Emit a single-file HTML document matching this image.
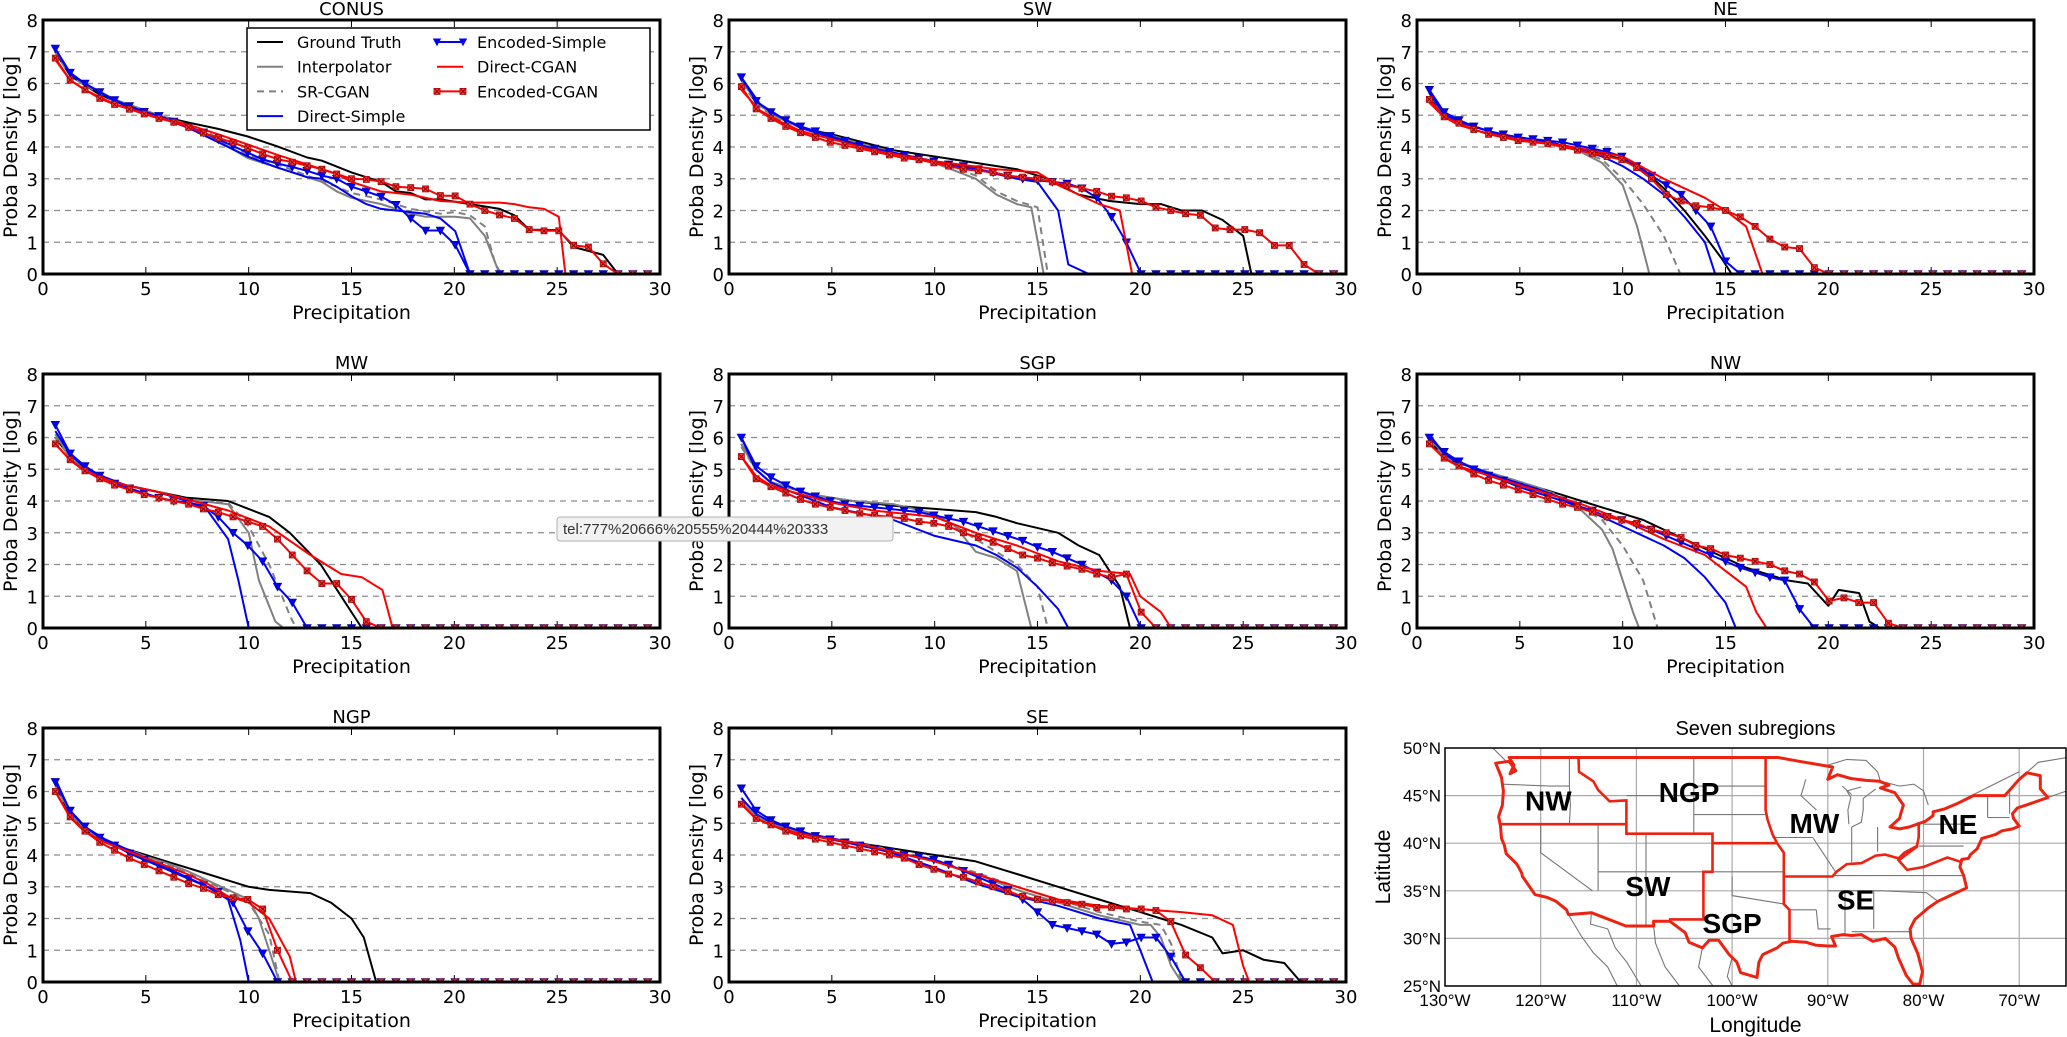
<!DOCTYPE html>
<html><head><meta charset="utf-8"><style>
html,body{margin:0;padding:0;background:#fff}
svg{display:block}
text{font-family:"DejaVu Sans","Liberation Sans",sans-serif}
.mt{font-family:"Liberation Sans",sans-serif}
</style></head><body>
<svg id="fig" xmlns="http://www.w3.org/2000/svg" width="2067" height="1037" viewBox="0 0 2067 1037">
<g id="charts"></g>
<g id="map"></g>
<g>
<rect x="557" y="517" width="336" height="24" rx="3" fill="#f2f2f2" stroke="#b0b0b0"/>
<text x="563" y="534" font-size="15" fill="#333" class="mt">tel:777%20666%20555%20444%20333</text>
</g>
</svg>
<script>
const bins=[0.6,1.32,2.04,2.76,3.48,4.2,4.92,5.64,6.36,7.08,7.8,8.52,9.24,9.96,10.68,11.4,12.12,12.84,13.56,14.28,15,15.72,16.44,17.16,17.88,18.6,19.32,20.04,20.76,21.48,22.2,22.92,23.64,24.36,25.08,25.8,26.52,27.24,27.96,28.68,29.4];
const xTicks=[0,5,10,15,20,25,30];
const yTicks=[0,1,2,3,4,5,6,7,8];

const conusGT=[[.6,7.0],[1.32,6.25],[2.04,5.95],[2.76,5.65],[3.48,5.45],[4.2,5.25],[5.64,4.98],[7.08,4.77],[8.52,4.57],[9.96,4.33],[11.4,4.02],[12.84,3.67],[13.56,3.57],[15,3.2],[16.44,2.9],[17.16,2.6],[17.88,2.55],[18.6,2.35],[19.32,2.35],[20.76,2.2],[22.2,2.05],[22.92,1.85],[23.64,1.4],[25.08,1.38],[25.8,0.85],[27.24,0.6],[27.96,0]];
const conusInt=[[.6,7.05],[1.32,6.3],[2.04,6.0],[3.48,5.5],[5.64,5.0],[7.08,4.65],[8.52,4.2],[9.96,3.65],[11.4,3.35],[12.84,3.05],[13.56,2.9],[14.28,2.6],[15,2.4],[16.44,2.2],[17.88,1.9],[18.6,1.8],[20.04,1.8],[20.76,1.75],[21.48,1.2],[22.2,0]];
const conusSR=[[.6,7.0],[1.32,6.25],[2.04,5.95],[3.48,5.45],[5.64,5.0],[7.08,4.7],[8.52,4.3],[9.96,3.75],[11.4,3.45],[12.84,3.1],[14.28,2.75],[15,2.55],[16.44,2.35],[17.88,2.05],[19.32,1.9],[20.04,1.95],[20.76,1.85],[21.48,1.5],[22.0,0.3],[22.3,0]];
const conusDirS=[[.6,7.1],[1.32,6.3],[2.04,6.0],[3.48,5.45],[5.64,4.95],[7.08,4.6],[8.52,4.15],[9.96,3.7],[11.4,3.35],[12.84,3.05],[13.56,3.0],[14.28,2.75],[15,2.45],[15.72,2.2],[16.44,2.05],[17.16,2.0],[17.88,1.95],[18.6,1.9],[19.32,1.75],[20.04,1.35],[20.76,0]];
const conusDirC=[[.6,6.75],[1.32,6.1],[2.04,5.8],[3.48,5.35],[5.64,4.92],[7.08,4.7],[8.52,4.4],[9.96,4.08],[11.4,3.75],[12.84,3.45],[14.28,3.15],[15,2.9],[16.44,2.6],[17.88,2.5],[19.32,2.3],[20.76,2.25],[22.2,2.25],[22.92,2.2],[23.64,2.1],[24.36,2.05],[25.08,1.8],[25.4,0]];
const conusEncS=[7.1,6.34,6.0,5.73,5.48,5.29,5.11,4.98,4.8,4.64,4.46,4.24,4.03,3.82,3.61,3.48,3.37,3.25,3.1,3.0,2.75,2.6,2.44,2.18,1.75,1.37,1.37,0.92,0];
const conusEncC=[6.8,6.11,5.8,5.53,5.34,5.19,5.04,4.9,4.78,4.62,4.44,4.29,4.14,3.97,3.78,3.62,3.52,3.41,3.3,3.15,3.0,2.98,2.91,2.75,2.72,2.68,2.47,2.46,2.2,2.0,1.86,1.75,1.4,1.36,1.36,0.9,0.85,0.32,0];

const swGT=[[.6,6.1],[1.5,5.3],[2.5,4.9],[3.5,4.6],[5,4.4],[6.5,4.15],[8,3.9],[10,3.7],[12,3.5],[14,3.3],[15.5,3.0],[17,2.5],[18.5,2.3],[20,2.2],[21,2.2],[22,2.0],[23,2.0],[24,1.7],[25,1.2],[25.4,0]];
const swInt=[[.6,6.1],[1.5,5.3],[2.5,4.9],[3.5,4.6],[5,4.35],[7,4.0],[10,3.5],[12,3.0],[13,2.5],[14,2.2],[14.7,2.1],[15.3,0]];
const swSR=[[.6,6.0],[1.5,5.25],[2.5,4.85],[3.5,4.6],[5,4.35],[7,4.0],[10,3.55],[12,3.1],[13,2.6],[14,2.3],[15,2.1],[15.5,0]];
const swDirS=[[.6,6.2],[1.5,5.35],[2.5,4.95],[3.5,4.6],[5,4.3],[7,3.95],[10,3.5],[12,3.3],[14,3.0],[15,2.9],[16,2.0],[16.5,0.3],[17.5,0]];
const swDirC=[[.6,5.8],[1.5,5.15],[2.5,4.8],[3.5,4.5],[5,4.25],[7,3.9],[10,3.55],[13,3.3],[15,3.2],[16,2.8],[17,2.5],[18,2.2],[19,2.0],[19.6,0]];
const swEncS=[6.2,5.45,5.1,4.85,4.65,4.5,4.35,4.2,4.05,3.95,3.85,3.75,3.65,3.55,3.45,3.4,3.3,3.2,3.1,3.0,2.95,2.9,2.85,2.7,2.4,1.8,1.0,0];
const swEncC=[5.9,5.2,4.9,4.65,4.45,4.3,4.15,4.05,3.95,3.85,3.75,3.65,3.6,3.5,3.4,3.3,3.25,3.2,3.1,3.05,3.0,2.9,2.8,2.7,2.6,2.45,2.4,2.3,2.1,2.0,1.9,1.85,1.45,1.4,1.4,1.3,0.9,0.9,0.3,0];

const neGT=[[.6,5.6],[1.3,5.0],[2,4.8],[3,4.6],[4,4.4],[6,4.2],[7.5,4.0],[9,3.8],[10,3.6],[11,3.3],[12,2.7],[13,2.0],[14,1.2],[14.8,0.5],[15.3,0]];
const neInt=[[.6,5.7],[1.3,5.0],[2,4.8],[3,4.6],[4,4.4],[6,4.2],[7.5,4.0],[9,3.5],[10,2.8],[10.7,1.5],[11.3,0]];
const neSR=[[.6,5.6],[1.3,5.0],[2,4.8],[3,4.6],[4,4.4],[6,4.2],[7.5,4.0],[9,3.6],[10,3.0],[11,2.2],[12,1.2],[12.8,0]];
const neDirS=[[.6,5.7],[1.3,5.05],[2,4.8],[3,4.6],[4,4.4],[6,4.2],[7.5,4.0],[9,3.7],[10,3.4],[11,3.0],[12,2.5],[13,1.8],[14,1.0],[14.5,0]];
const neDirC=[[.6,5.4],[1.3,4.95],[2,4.7],[3,4.5],[4,4.35],[6,4.15],[8,3.95],[10,3.7],[12,3.0],[13,2.7],[14,2.4],[15,2.0],[16,1.5],[16.8,0]];
const neEncS=[5.8,5.1,4.85,4.65,4.5,4.4,4.3,4.25,4.2,4.15,4.05,3.95,3.85,3.7,3.4,3.1,2.8,2.5,2.0,1.5,0.4,0];
const neEncC=[5.5,4.95,4.75,4.55,4.4,4.3,4.2,4.15,4.1,4.0,3.9,3.8,3.7,3.6,3.35,3.0,2.5,2.3,2.15,2.1,2.0,1.8,1.5,1.1,0.85,0.8,0.2,0];

const mwGT=[[.6,6.0],[1.3,5.4],[2,5.0],[3,4.7],[4,4.5],[5.5,4.3],[7,4.1],[9,4.0],[11,3.5],[12,3.0],[13.5,2.0],[14.5,1.0],[15.2,0.3],[15.5,0]];
const mwInt=[[.6,6.1],[1.3,5.4],[2,5.0],[3,4.7],[4,4.5],[5.5,4.3],[7,4.05],[9,3.9],[10,3.0],[10.5,1.5],[11.3,0.2],[11.7,0]];
const mwSR=[[.6,6.0],[1.3,5.4],[2,5.0],[3,4.7],[4,4.5],[5.5,4.3],[7,4.05],[9,3.95],[10,3.2],[11,2.0],[12,0.4],[12.3,0]];
const mwDirS=[[.6,6.2],[1.3,5.5],[2,5.05],[3,4.75],[4,4.5],[5.5,4.3],[7,4.0],[8,3.7],[9,2.8],[9.5,1.5],[10,0]];
const mwDirC=[[.6,5.8],[1.3,5.3],[2,4.95],[3,4.7],[4,4.5],[5.5,4.3],[7,4.05],[9,3.7],[11,3.2],[13,2.3],[14.5,1.7],[15.5,1.6],[16.5,1.2],[17,0]];
const mwEncS=[6.4,5.5,5.1,4.8,4.55,4.4,4.25,4.1,4.0,3.95,3.85,3.5,3.0,2.6,2.1,1.3,0.8,0];
const mwEncC=[5.8,5.3,4.95,4.7,4.5,4.35,4.2,4.1,4.0,3.9,3.75,3.65,3.5,3.35,3.2,2.8,2.3,1.8,1.4,1.4,0.9,0.2,0];

const sgpGT=[[.6,5.8],[1.3,5.0],[2,4.6],[3,4.4],[4,4.2],[6,4.0],[8,3.85],[10,3.75],[12,3.65],[13,3.5],[14,3.3],[16,3.0],[17,2.6],[18,2.3],[19,1.3],[19.5,0]];
const sgpInt=[[.6,5.8],[1.3,5.0],[2,4.6],[3,4.4],[4,4.2],[6,4.0],[8,3.9],[10,3.6],[11,3.2],[12,2.4],[13,2.2],[14,1.8],[14.7,0]];
const sgpSR=[[.6,5.7],[1.3,5.0],[2,4.6],[3,4.4],[4,4.2],[6,4.0],[8,3.9],[10,3.6],[12,2.8],[14,2.0],[15,1.3],[15.5,0]];
const sgpDirS=[[.6,6.0],[1.3,5.0],[2,4.6],[3,4.3],[5,3.8],[8,3.4],[10,2.9],[12,2.6],[13,2.3],[14,1.9],[15,1.3],[16,0.6],[16.5,0]];
const sgpDirC=[[.6,5.4],[1.3,4.8],[2,4.5],[3,4.3],[5,3.95],[7,3.7],[10,3.5],[12,3.0],[14,2.6],[16,2.1],[18,1.8],[19.5,1.7],[20,1.0],[21,0.5],[21.5,0]];
const sgpEncS=[6.0,5.1,4.75,4.5,4.3,4.15,4.0,3.9,3.85,3.8,3.75,3.7,3.65,3.55,3.45,3.35,3.2,3.05,2.9,2.75,2.55,2.4,2.2,2.0,1.75,1.5,1.0,0];
const sgpEncC=[5.4,4.7,4.45,4.25,4.05,3.9,3.8,3.7,3.6,3.55,3.5,3.45,3.35,3.3,3.2,3.0,2.85,2.7,2.5,2.3,2.2,2.05,1.95,1.85,1.7,1.6,1.7,0.5,0];

const nwGT=[[.6,5.9],[1.3,5.4],[2,5.2],[3,5.0],[4,4.8],[5,4.6],[6,4.4],[7,4.2],[8,4.0],[9,3.8],[10,3.6],[11,3.4],[12,3.1],[13,2.8],[14,2.5],[15,2.2],[16,1.9],[17,1.7],[18,1.5],[19,1.4],[20,0.7],[20.5,1.2],[21.5,1.1],[22,0.2],[22.5,0]];
const nwInt=[[.6,6.0],[1.3,5.5],[2,5.25],[3,5.0],[4,4.8],[5,4.6],[6,4.4],[7,4.1],[8,3.7],[9,3.1],[9.5,2.5],[10,1.5],[10.5,0.5],[10.8,0]];
const nwSR=[[.6,5.9],[1.3,5.4],[2,5.2],[3,5.0],[4,4.8],[5,4.6],[6,4.4],[7,4.15],[8,3.8],[9,3.4],[10,2.6],[11,1.5],[11.7,0]];
const nwDirS=[[.6,6.1],[1.3,5.5],[2,5.2],[3,5.0],[4,4.75],[5,4.55],[6,4.35],[7,4.1],[8,3.8],[10,3.2],[12,2.6],[13,2.2],[14,1.6],[15,0.8],[15.5,0]];
const nwDirC=[[.6,5.8],[1.3,5.35],[2,5.1],[3,4.9],[4,4.7],[6,4.3],[8,3.9],[10,3.4],[12,2.8],[14,2.3],[15,1.8],[16,1.3],[16.5,0.5],[17,0]];
const nwEncS=[6.0,5.55,5.25,5.0,4.8,4.65,4.45,4.3,4.15,4.0,3.85,3.7,3.5,3.4,3.25,3.1,2.9,2.7,2.5,2.3,2.1,1.9,1.75,1.6,1.5,0.6,0];
const nwEncC=[5.8,5.35,5.1,4.85,4.65,4.5,4.35,4.2,4.05,3.9,3.8,3.65,3.5,3.4,3.3,3.1,3.0,2.85,2.6,2.5,2.3,2.2,2.1,2.0,1.8,1.7,1.45,0.85,0.95,0.8,0.8,0.15,0];

const ngpGT=[[.6,6.2],[1.3,5.3],[2,4.8],[3,4.5],[4,4.2],[5,4.0],[6,3.8],[7,3.6],[8,3.4],[9,3.2],[10,3.0],[11,2.9],[12,2.85],[13,2.8],[14,2.5],[15,2.0],[15.6,1.4],[16.2,0]];
const ngpInt=[[.6,6.3],[1.3,5.35],[2,4.85],[3,4.5],[4,4.2],[5,3.95],[6,3.75],[7,3.5],[8,3.2],[9,2.9],[10,2.6],[10.5,2.0],[11,1.0],[11.5,0]];
const ngpSR=[[.6,6.2],[1.3,5.3],[2,4.8],[3,4.5],[4,4.2],[5,3.95],[6,3.7],[7,3.45],[8,3.15],[9,2.85],[10,2.5],[11,1.5],[11.5,0]];
const ngpDirS=[[.6,6.4],[1.3,5.4],[2,4.9],[3,4.5],[4,4.2],[5,3.9],[6,3.6],[7,3.3],[8,3.0],[9,2.6],[9.6,1.3],[10,0]];
const ngpDirC=[[.6,6.0],[1.3,5.2],[2,4.75],[3,4.4],[4,4.15],[5,3.9],[6,3.65],[7,3.4],[8,3.1],[9,2.7],[10,2.5],[11,2.0],[12,0.8],[12.3,0]];
const ngpEncS=[6.3,5.4,4.9,4.55,4.3,4.05,3.85,3.65,3.45,3.25,3.05,2.85,2.5,1.6,0.9,0];
const ngpEncC=[6.0,5.2,4.75,4.4,4.15,3.9,3.7,3.5,3.3,3.1,2.95,2.75,2.65,2.6,2.3,1.0,0];

const seGT=[[.6,5.6],[1.3,5.2],[2,5.0],[3,4.8],[4,4.6],[6,4.4],[8,4.2],[10,4.0],[12,3.8],[14,3.4],[16,3.0],[18,2.6],[20,2.2],[22,1.8],[23.5,1.4],[24,0.9],[25,1.0],[26,0.7],[27,0.6],[27.8,0]];
const seInt=[[.6,5.7],[1.3,5.2],[2,5.0],[3,4.8],[4,4.6],[6,4.4],[8,4.1],[10,3.8],[12,3.4],[14,2.9],[16,2.5],[18,2.1],[20,1.8],[20.5,1.8],[21,1.4],[21.5,0.5],[22,0]];
const seSR=[[.6,5.6],[1.3,5.2],[2,5.0],[3,4.8],[4,4.6],[6,4.4],[8,4.15],[10,3.85],[12,3.45],[14,3.0],[16,2.6],[18,2.2],[20,1.9],[21,1.8],[21.5,1.2],[22,0]];
const seDirS=[[.6,5.8],[1.3,5.3],[2,5.05],[3,4.85],[4,4.65],[6,4.4],[8,4.05],[10,3.6],[12,3.1],[14,2.7],[16,2.4],[18,2.0],[19.5,1.8],[20,1.0],[20.6,0]];
const seDirC=[[.6,5.6],[1.3,5.15],[2,4.95],[3,4.75],[4,4.6],[6,4.4],[8,4.1],[10,3.8],[14,3.0],[16,2.6],[18,2.4],[20,2.3],[22,2.2],[23.5,2.1],[24.5,1.8],[25,0.5],[25.3,0]];
const seEncS=[6.1,5.4,5.1,4.9,4.75,4.6,4.5,4.4,4.3,4.2,4.1,4.0,3.95,3.85,3.7,3.5,3.3,3.1,2.9,2.6,2.2,1.8,1.7,1.6,1.5,1.2,1.25,1.4,1.4,0.8,0];
const seEncC=[5.6,5.15,4.95,4.75,4.6,4.5,4.4,4.3,4.2,4.1,4.0,3.9,3.7,3.55,3.4,3.3,3.15,3.0,2.85,2.7,2.6,2.55,2.5,2.45,2.35,2.35,2.3,2.3,2.25,1.9,0.85,0.45,0];

const panelDefs=[
 {name:'CONUS',col:0,row:0,gt:conusGT,it:conusInt,sr:conusSR,ds:conusDirS,dc:conusDirC,es:conusEncS,ec:conusEncC,legend:true},
 {name:'SW',col:1,row:0,gt:swGT,it:swInt,sr:swSR,ds:swDirS,dc:swDirC,es:swEncS,ec:swEncC},
 {name:'NE',col:2,row:0,gt:neGT,it:neInt,sr:neSR,ds:neDirS,dc:neDirC,es:neEncS,ec:neEncC},
 {name:'MW',col:0,row:1,gt:mwGT,it:mwInt,sr:mwSR,ds:mwDirS,dc:mwDirC,es:mwEncS,ec:mwEncC},
 {name:'SGP',col:1,row:1,gt:sgpGT,it:sgpInt,sr:sgpSR,ds:sgpDirS,dc:sgpDirC,es:sgpEncS,ec:sgpEncC},
 {name:'NW',col:2,row:1,gt:nwGT,it:nwInt,sr:nwSR,ds:nwDirS,dc:nwDirC,es:nwEncS,ec:nwEncC},
 {name:'NGP',col:0,row:2,gt:ngpGT,it:ngpInt,sr:ngpSR,ds:ngpDirS,dc:ngpDirC,es:ngpEncS,ec:ngpEncC},
 {name:'SE',col:1,row:2,gt:seGT,it:seInt,sr:seSR,ds:seDirS,dc:seDirC,es:seEncS,ec:seEncC}
];

const NS='http://www.w3.org/2000/svg';
function mk(tag,attrs,parent){const e=document.createElementNS(NS,tag);for(const k in attrs)e.setAttribute(k,attrs[k]);if(parent)parent.appendChild(e);return e;}
const colLeft=[43,729,1417], rowBottom=[274,628,982], PW=617, PH=254;
const charts=document.getElementById('charts');

function triPath(x,y){return `M${x-4.2},${y-3.5}L${x+4.2},${y-3.5}L${x},${y+4.2}Z`;}
function drawX(g,x,y){
  const m=mk('g',{},g);
  
  
  mk('rect',{x:x-3,y:y-3,width:6,height:6,fill:'#ff3b3b',stroke:'#a00000','stroke-width':0.8},m);
  mk('path',{d:`M${x-2.2},${y-2.2}L${x+2.2},${y+2.2}M${x+2.2},${y-2.2}L${x-2.2},${y+2.2}`,stroke:'#900000','stroke-width':1},m);
}

panelDefs.forEach((p,idx)=>{
  const L=colLeft[p.col], B=rowBottom[p.row], T=B-PH;
  const sx=v=>L+v/30*PW, sy=v=>B-v/8*PH;
  const g=mk('g',{},charts);
  
  
  const cid='clip'+idx;
  const cp=mk('clipPath',{id:cid},g);mk('rect',{x:L,y:T,width:PW,height:PH},cp);
  for(const t of yTicks){ if(t>0&&t<8){const gl=mk('line',{x1:L,x2:L+PW,y1:sy(t),y2:sy(t),stroke:'#8c8c8c','stroke-width':1.3,'stroke-dasharray':'6,5'},g);
    }}
  for(const t of xTicks){ if(t>0&&t<30){mk('line',{x1:sx(t),x2:sx(t),y1:B,y2:B-7,stroke:'#000','stroke-width':1},g);mk('line',{x1:sx(t),x2:sx(t),y1:T,y2:T+7,stroke:'#000','stroke-width':1},g);}
    const tl=mk('text',{x:sx(t),y:B+21,'font-size':18,'text-anchor':'middle'},g);tl.textContent=t;
    }
  for(const t of yTicks){const tl=mk('text',{x:L-5,y:sy(t)+7,'font-size':18,'text-anchor':'end'},g);tl.textContent=t;
    }
  const series=mk('g',{'clip-path':`url(#${cid})`},g);
  function line(pts,color,dash,name){const d=pts.map((q,i)=>(i?'L':'M')+sx(q[0]).toFixed(1)+','+sy(q[1]).toFixed(1)).join('');
    const e=mk('path',{d:d,fill:'none',stroke:color,'stroke-width':2,'stroke-linejoin':'round'},series);
    if(dash)e.setAttribute('stroke-dasharray',dash);
    }
  const esPts=bins.map((b,i)=>[b,i<p.es.length?p.es[i]:0]);
  const ecPts=bins.map((b,i)=>[b,i<p.ec.length?p.ec[i]:0]);
  line(p.gt,'#000',null,'ground-truth-line');
  line(p.it,'#808080',null,'interpolator-line');
  line(p.sr,'#808080','7,5','sr-cgan-line');
  line(p.ds,'#0000ff',null,'direct-simple-line');
  line(esPts,'#0000ff',null,'encoded-simple-line');
  esPts.forEach(q=>{const m=mk('path',{d:triPath(sx(q[0]),sy(q[1])),fill:'#0000ff',stroke:'#00008b','stroke-width':0.6},series);
    });
  line(p.dc,'#ff0000',null,'direct-cgan-line');
  line(ecPts,'#ff0000',null,'encoded-cgan-line');
  ecPts.forEach(q=>drawX(series,sx(q[0]),sy(q[1])));
  const fr=mk('rect',{x:L,y:T,width:PW,height:PH,fill:'none',stroke:'#000','stroke-width':3},g);
  
  const ti=mk('text',{x:L+PW/2,y:T-5,'font-size':18,'text-anchor':'middle'},g);ti.textContent=p.name;
  
  const xl=mk('text',{x:L+PW/2,y:B+45,'font-size':19,'text-anchor':'middle'},g);xl.textContent='Precipitation';
  
  const yl=mk('text',{x:0,y:0,'font-size':19,'text-anchor':'middle',transform:`translate(${L-26},${(T+B)/2}) rotate(-90)`},g);yl.textContent='Proba Density [log]';
  
  if(p.legend){
    const lg=mk('g',{},g);
    mk('rect',{x:247,y:28,width:403,height:102,fill:'#fff',stroke:'#000','stroke-width':1.5},lg);
    const items=[['Ground Truth','#000',null,0,0,0],['Interpolator','#808080',null,0,0,1],['SR-CGAN','#808080','7,5',0,0,2],['Direct-Simple','#0000ff',null,0,0,3],
                 ['Encoded-Simple','#0000ff',null,1,1,0],['Direct-CGAN','#ff0000',null,1,0,1],['Encoded-CGAN','#ff0000',null,1,2,2]];
    items.forEach(it=>{const x0=it[3]?437:257, y=42+it[5]*24.7;
      const eg=mk('g',{},lg);
      const ln=mk('line',{x1:x0,x2:x0+26,y1:y,y2:y,stroke:it[1],'stroke-width':2},eg);if(it[2])ln.setAttribute('stroke-dasharray',it[2]);
      if(it[4]===1){mk('path',{d:triPath(x0,y),fill:'#0000ff'},eg);mk('path',{d:triPath(x0+26,y),fill:'#0000ff'},eg);}
      if(it[4]===2){drawX(eg,x0,y);drawX(eg,x0+26,y);}
      const tx=mk('text',{x:x0+40,y:y+6,'font-size':16},eg);tx.textContent=it[0];});
  }
});

// ---------- MAP ----------
const mapG=document.getElementById('map');
const ML=1445,MR=2066,MT=748,MB=986;
const lx=lon=>ML+(lon+130)*9.57, ly=lat=>MT+(50-lat)*9.52;
const lonTicks=[-130,-120,-110,-100,-90,-80,-70];
const latTicks=[25,30,35,40,45,50];
const coast=[[-124.7,48.4],[-124.1,46.9],[-124.0,46.2],[-123.9,45.5],[-124.0,44.0],[-124.4,42.8],[-124.2,41.8],[-124.1,40.5],[-123.8,39.8],[-123.6,38.9],[-122.5,37.8],[-122.0,36.9],[-121.9,36.5],[-120.6,34.6],[-119.3,34.3],[-118.4,33.9],[-117.3,33.0],[-117.1,32.5],[-114.7,32.7],[-111.1,31.3],[-108.2,31.3],[-108.2,31.8],[-106.5,31.8],[-104.9,30.6],[-104.5,29.6],[-103.1,29.0],[-102.4,29.8],[-101.4,29.8],[-100.3,28.3],[-99.5,27.5],[-99.1,26.4],[-97.4,25.9],[-97.2,27.5],[-96.8,28.3],[-95.3,29.0],[-94.7,29.5],[-93.8,29.7],[-92.3,29.6],[-91.3,29.3],[-90.0,29.2],[-89.2,29.2],[-89.6,30.2],[-88.4,30.4],[-87.5,30.3],[-86.5,30.4],[-85.3,29.7],[-84.0,30.0],[-83.0,29.1],[-82.6,27.9],[-81.8,26.1],[-81.1,25.2],[-80.4,25.2],[-80.1,26.5],[-80.6,28.4],[-81.3,30.0],[-81.4,31.0],[-80.9,32.0],[-79.5,33.2],[-78.5,33.9],[-77.0,34.6],[-75.5,35.3],[-75.8,36.6],[-76.2,37.5],[-76.0,38.3],[-75.3,38.4],[-75.1,38.8],[-74.4,39.4],[-73.9,40.5],[-72.5,40.9],[-71.8,41.3],[-70.7,41.5],[-70.0,41.8],[-70.6,42.6],[-70.7,43.1],[-70.2,43.7],[-69.0,44.1],[-67.0,44.8],[-67.8,45.7],[-67.8,47.1],[-69.2,47.4],[-70.0,46.7],[-71.5,45.0],[-74.8,45.0],[-76.4,44.2],[-77.8,43.6],[-79.0,43.3],[-79.0,42.9],[-79.8,42.3],[-81.5,41.7],[-82.5,41.5],[-83.5,41.7],[-82.5,42.6],[-82.4,43.0],[-82.1,44.0],[-83.0,45.3],[-84.5,45.8],[-83.6,46.1],[-84.6,46.5],[-86.0,46.6],[-87.6,46.8],[-89.0,47.2],[-90.0,46.7],[-89.5,48.0],[-93.0,48.6],[-95.2,49.0],[-123.3,49.0],[-122.8,48.2],[-123.2,47.3],[-122.6,47.6],[-123.3,48.6],[-124.7,48.4]];
const regionBorders=[
 [[-124.2,42],[-111.05,42]],
 [[-116.05,49],[-116,47.5],[-114.5,46.5],[-114,45.6],[-112.8,44.4],[-111.05,44.5],[-111.05,41],[-102.05,41],[-102.05,37],[-103,37],[-103,32],[-106.6,32]],
 [[-102.05,40],[-95.3,40]],
 [[-96.5,49],[-96.5,45.5],[-96.5,43.5],[-96.3,42.5],[-95.8,41],[-95.3,40],[-94.6,39],[-94.6,36.5],[-94.6,33.6],[-94.0,33],[-94.0,29.7]],
 [[-94.6,36.5],[-89.5,36.5],[-89.1,37],[-88,37.8],[-86.5,37.9],[-85,38.7],[-84,38.8],[-82.6,38.4],[-82,39],[-80.7,39.7],[-80.5,40.6],[-80.5,42.2]],
 [[-80.6,39.7],[-82.6,38.2],[-81.7,37.2],[-80,37.5],[-77.5,38.5],[-76.0,38.0]]
];
const grayLines=[
 [[-117.1,32.5],[-116.5,31.5],[-115.8,30.3],[-114.5,28.5],[-113,27],[-112,25]],
 [[-114.7,32.7],[-114.8,31.5],[-113,31],[-112.2,29],[-111,27.5],[-109.5,25]],
 [[-108.2,31.3],[-108,29.5],[-107,27],[-105.5,25]],[[-103.1,29],[-103.5,27],[-102,25]],[[-100,28],[-100.5,26],[-100,25]],
 [[-124,46.2],[-119,46],[-117,46]],[[-117,49],[-117,46],[-116.9,44],[-117,42]],[[-114,42],[-114,35]],[[-120,42],[-120,39],[-114.6,35]],
 [[-109,41],[-109,31.3]],[[-114,37],[-102,37]],[[-111,45],[-104,45]],[[-104,49],[-104,41]],[[-104,46],[-96.5,46]],[[-104,43],[-96.5,43]],
 [[-102,37],[-94.6,37]],[[-100,36.5],[-100,34.5],[-94.5,33.6]],[[-103,36.5],[-103,32]],
 [[-92.3,46.7],[-92.8,45],[-91.2,43.5]],[[-95.8,40.6],[-91.5,40.6]],[[-91.5,40.5],[-89.2,37]],[[-87.5,41.7],[-87.5,38]],[[-84.8,41.7],[-84.8,39.1]],
 [[-87.5,45.1],[-88.5,46]],[[-89.5,36.6],[-81.7,36.6]],[[-90,35],[-84.3,35]],[[-88.2,35],[-88.2,30.5]],[[-85.2,35],[-85.2,31]],[[-87.5,30.7],[-81.5,30.7]],
 [[-91.2,33],[-91,31],[-89.7,31]],[[-94,33],[-91.2,33]],[[-84.3,35],[-79.7,34.8],[-78.5,33.9]],[[-81.7,36.6],[-75.9,36.6]],
 [[-80,42],[-75.3,42]],[[-80.5,39.7],[-75.8,39.7]],[[-73.3,45],[-73.3,42.7]],[[-73.3,42.7],[-71,42.7]],[[-71,45.3],[-71,43.1]],
 [[-125,50],[-123.5,48.5]],[[-82.5,46],[-84,46.4]],[[-90,48.2],[-88,48.8],[-86,48.7],[-84.8,47.5],[-84.5,46.5]],
 [[-87.8,42],[-87.9,43.5],[-87.6,44.8],[-88,45.5],[-86.5,45.9]],[[-87.5,41.7],[-86.5,42.2],[-86.3,43.5],[-86.3,44.7],[-85,45.7]],
 [[-70,46.7],[-68,48.5],[-65,49]],[[-67,44.8],[-65,45.5],[-64.5,46]],[[-79.5,44],[-80,45.5],[-81,46.2],[-82.5,46]],[[-75,45],[-72,46.5],[-70,47.5]]
];
const regionLabels=[['NW',-119.2,44.5],['NGP',-104.5,45.4],['SW',-108.8,35.5],['SGP',-100,31.6],['MW',-91.4,42.1],['NE',-76.4,42.0],['SE',-87.1,34.1]];

(function(){
  const cp=mk('clipPath',{id:'mapclip'},mapG);mk('rect',{x:ML,y:MT,width:MR-ML,height:MB-MT},cp);
  const inner=mk('g',{'clip-path':'url(#mapclip)'},mapG);
  mk('rect',{x:ML,y:MT,width:MR-ML,height:MB-MT,fill:'#fff'},inner);
  lonTicks.forEach(l=>{const e=mk('line',{x1:lx(l),x2:lx(l),y1:MT,y2:MB,stroke:'#aaa','stroke-width':1.2},inner);});
  latTicks.forEach(l=>{const e=mk('line',{x1:ML,x2:MR,y1:ly(l),y2:ly(l),stroke:'#aaa','stroke-width':1.2},inner);});
  const pth=pts=>pts.map((q,i)=>(i?'L':'M')+lx(q[0]).toFixed(1)+','+ly(q[1]).toFixed(1)).join('');
  grayLines.forEach(gl=>{const e=mk('path',{d:pth(gl),fill:'none',stroke:'#777','stroke-width':1.1},inner);});
  const c=mk('path',{d:pth(coast)+'Z',fill:'none',stroke:'#ee2211','stroke-width':3,'stroke-linejoin':'round'},inner);
  
  regionBorders.forEach(rb=>{const e=mk('path',{d:pth(rb),fill:'none',stroke:'#ee2211','stroke-width':2.6},inner);});
  regionLabels.forEach(r=>{const t=mk('text',{x:lx(r[1]),y:ly(r[2])+10,'font-size':28,'font-weight':'bold','text-anchor':'middle',class:'mt'},inner);t.textContent=r[0];
    });
  mk('rect',{x:ML,y:MT,width:MR-ML,height:MB-MT,fill:'none',stroke:'#000','stroke-width':1.5},mapG);
  lonTicks.forEach(l=>{const t=mk('text',{x:lx(l),y:MB+20,'font-size':17,'text-anchor':'middle',class:'mt'},mapG);t.textContent=Math.abs(l)+'°W';
    });
  latTicks.forEach(l=>{const t=mk('text',{x:ML-4,y:ly(l)+6,'font-size':17,'text-anchor':'end',class:'mt'},mapG);t.textContent=l+'°N';
    });
  const tt=mk('text',{x:(ML+MR)/2,y:735,'font-size':20,'text-anchor':'middle',class:'mt'},mapG);tt.textContent='Seven subregions';
  
  const xl=mk('text',{x:(ML+MR)/2,y:1032,'font-size':21,'text-anchor':'middle',class:'mt'},mapG);xl.textContent='Longitude';
  
  const yl=mk('text',{x:0,y:0,'font-size':21,'text-anchor':'middle',class:'mt',transform:`translate(1390,${(MT+MB)/2}) rotate(-90)`},mapG);yl.textContent='Latitude';
  
})();
</script>
</body></html>
